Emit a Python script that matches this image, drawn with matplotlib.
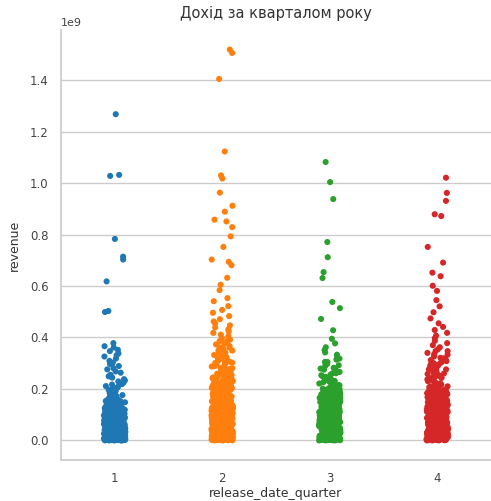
import numpy as np
import pandas as pd
import seaborn as sns
import matplotlib
matplotlib.use("Agg")
import matplotlib.pyplot as plt

# revenue per film, millions of dollars, read off the reference by quarter
# upper part (outliers and sparse tail)
q1_revenue = [
    1268, 1032, 1028, 783, 714, 703, 618, 503, 499,
    378, 366, 361, 352, 347, 338, 331, 326, 318, 309, 302, 297, 289, 281,
    276, 268, 263, 255, 249, 244, 238, 233, 229, 224, 219, 217, 211, 208,
    203, 199, 196, 192, 188, 185, 181, 179, 176, 172, 169, 166, 163, 161,
    158, 155, 153, 150, 148, 146, 143, 141, 138, 136, 134, 132, 130, 127,
    125, 123, 121, 119, 117, 115, 114, 112, 110, 108, 106, 104, 103, 101,
    99, 97, 96, 94, 92, 90, 89, 87, 86, 84, 82, 81, 79, 78, 76, 75, 73, 72,
    70, 69, 67, 66, 64, 63, 61, 60, 58, 57, 56, 54, 53, 52, 50, 49, 48, 46,
    45, 44, 43, 41, 40, 39, 38, 37, 36, 35, 34, 33, 32, 31, 30, 29, 28, 27,
    26, 25, 24, 23, 22, 21, 20, 19, 18, 17, 16, 15, 14, 13, 12, 11, 10, 9,
    8, 7, 6, 5, 4, 3, 2, 1, 0, 0, 2, 5, 8, 12, 15, 21, 27, 33, 41, 48, 55,
]
q2_revenue = [
    1519, 1506, 1405, 1123, 1030, 1018, 963, 912, 889, 858, 851, 829, 793,
    752, 703, 694, 681, 632, 605, 584, 553, 541, 522, 507, 496, 483, 471,
    462, 455, 447, 439, 431, 424, 418, 411, 405, 398, 392, 386, 379, 373,
    367, 361, 355, 349, 343, 338, 332, 327, 321, 316, 311, 306, 301, 296,
    291, 287, 282, 278, 273, 269, 265, 261, 257, 253, 249, 245, 241, 237,
    234, 230, 227, 223, 220, 216, 213, 210, 207, 204, 201, 198, 195, 192,
    189, 186, 183, 180, 178, 175, 172, 170, 167, 165, 162, 160, 157, 155,
    152, 150, 148, 145, 143, 141, 139, 137, 134, 132, 130, 128, 126, 124,
    122, 120, 118, 116, 114, 112, 110, 108, 106, 104, 102, 100, 98, 96, 94,
    92, 90, 88, 86, 84, 82, 80, 78, 76, 74, 72, 70, 68, 66, 64, 62, 60, 58,
    56, 54, 52, 50, 48, 46, 44, 42, 40, 38, 36, 34, 32, 30, 28, 26, 24, 22,
    20, 18, 16, 14, 12, 10, 8, 6, 4, 2, 0, 1, 3, 7, 11, 17, 23, 29, 35, 43,
    51, 59, 67, 75, 83, 91, 99, 109, 119, 131, 143, 157, 171, 187, 203, 221,
]
q3_revenue = [
    1082, 1004, 938, 771, 712, 654, 631, 538, 514, 472, 428, 395, 377, 362,
    351, 342, 333, 322, 314, 305, 297, 289, 282, 275, 268, 261, 255, 249,
    243, 237, 231, 226, 221, 215, 210, 205, 200, 196, 191, 187, 183, 179,
    175, 171, 167, 163, 160, 156, 153, 149, 146, 143, 140, 137, 134, 131,
    128, 125, 122, 119, 117, 114, 111, 109, 106, 104, 101, 99, 97, 94, 92,
    90, 88, 86, 84, 82, 80, 78, 76, 74, 72, 70, 68, 66, 64, 62, 60, 58, 56,
    54, 52, 50, 48, 46, 44, 42, 40, 38, 36, 34, 32, 30, 28, 26, 24, 22, 20,
    18, 16, 14, 12, 10, 8, 6, 4, 2, 0, 1, 3, 5, 9, 13, 19, 25, 31, 39, 47,
    57, 67, 79, 91, 103, 117, 133, 151, 169,
]
q4_revenue = [
    1021, 962, 931, 879, 872, 752, 691, 652, 638, 601, 581, 545, 521, 498,
    474, 455, 441, 429, 418, 407, 397, 387, 378, 370, 362, 354, 347, 340,
    333, 326, 319, 312, 306, 300, 294, 288, 282, 276, 271, 266, 260, 255,
    250, 245, 240, 235, 231, 226, 222, 218, 214, 210, 206, 202, 198, 194,
    190, 187, 183, 180, 176, 173, 170, 166, 163, 160, 157, 154, 151, 148,
    145, 142, 139, 136, 133, 130, 128, 125, 122, 120, 117, 115, 112, 110,
    107, 105, 102, 100, 98, 95, 93, 91, 89, 87, 85, 83, 81, 79, 77, 75, 73,
    71, 69, 67, 65, 63, 61, 59, 57, 55, 53, 51, 49, 47, 45, 43, 41, 39, 37,
    35, 33, 31, 29, 27, 25, 23, 21, 19, 17, 15, 13, 11, 9, 7, 5, 3, 1, 0,
    2, 4, 8, 12, 18, 24, 30, 38, 46, 56, 66, 78, 92, 106, 122, 138, 156,
]

# dense bulk near zero
q1_bulk = [
    3, 7, 1, 12, 5, 18, 9, 24, 2, 15, 31, 6, 11, 44, 0, 27, 8, 36, 14, 52,
    4, 19, 63, 10, 22, 39, 1, 47, 16, 71, 5, 28, 58, 13, 85, 2, 34, 20, 67, 9,
    41, 3, 95, 25, 12, 54, 7, 78, 30, 17, 106, 0, 45, 61, 23, 88, 6, 37, 118, 14,
    50, 4, 72, 29, 99, 10, 57, 19, 131, 2, 42, 81, 26, 65, 8, 112, 33, 15, 49, 140,
    5, 76, 21, 92, 38, 11, 125, 60, 1, 31, 84, 18, 152, 46, 7, 69, 27, 103, 13, 55,
    3, 96, 40, 164, 22, 74, 9, 115, 35, 62, 16, 137, 48, 4, 87, 28, 178, 12, 58, 101,
    20, 43, 6, 122, 66, 30, 93, 1, 148, 51, 17, 79, 36, 191, 10, 108, 24, 59, 3, 132,
    70, 41, 14, 97, 26, 160, 53, 8, 83, 32, 119, 19, 64, 2, 205, 45, 90, 11, 143, 37,
    6, 13, 2, 20, 9, 28, 4, 16, 35, 1, 24, 11, 42, 7, 31, 18, 50, 3, 38, 14,
    57, 8, 26, 46, 0, 65, 21, 33, 12, 74, 5, 53, 29, 83, 17, 40, 92, 10, 61, 25,
    2, 102, 48, 15, 69, 36, 112, 7, 56, 22, 78, 123, 44, 13, 88, 30, 4, 134, 63, 19,
    97, 51, 9, 146, 39, 71, 27, 108, 1, 158, 59, 16, 85, 34, 120, 6, 67, 47, 11, 170,
    23, 94, 3, 55, 129, 37, 14, 76, 8, 43, 104, 26, 62, 18, 1, 89, 32, 140, 49, 12,
]
q2_bulk = [
    2, 9, 15, 4, 27, 11, 38, 6, 21, 50, 1, 33, 17, 63, 8, 44, 25, 77, 13, 56,
    3, 30, 89, 19, 68, 10, 41, 102, 5, 52, 23, 81, 14, 115, 35, 61, 0, 94, 28, 47,
    128, 7, 72, 18, 107, 39, 58, 141, 12, 85, 31, 66, 154, 4, 98, 45, 120, 22, 75, 167,
    9, 53, 133, 36, 87, 16, 180, 62, 110, 26, 146, 1, 79, 193, 42, 124, 57, 11, 159, 92,
    34, 206, 70, 137, 20, 101, 172, 48, 6, 219, 83, 150, 29, 114, 185, 60, 13, 232, 96, 164,
    38, 127, 198, 74, 3, 245, 108, 177, 51, 141, 211, 24, 88, 258, 121, 190, 65, 155, 8, 224,
    100, 271, 43, 168, 134, 237, 78, 15, 203, 284, 117, 55, 181, 250, 91, 147, 31, 216, 297, 130,
    69, 194, 263, 5, 104, 160, 229, 310, 46, 143, 276, 84, 207, 18, 173, 242, 323, 118, 59, 289,
    156, 220, 37, 97, 186, 336, 131, 255, 72, 302, 10, 199, 349, 169, 233, 110, 268, 49, 315, 144,
    212, 362, 86, 182, 281, 27, 246, 375, 123, 328, 157, 225, 63, 294, 388, 195, 136, 259, 341, 99,
    4, 12, 23, 7, 35, 16, 48, 2, 28, 61, 10, 41, 19, 74, 5, 54, 31, 87, 14, 67,
    1, 38, 100, 22, 80, 9, 49, 113, 26, 93, 3, 59, 126, 17, 106, 44, 139, 8, 71, 33,
    152, 20, 119, 55, 165, 12, 84, 37, 178, 6, 132, 64, 191, 25, 97, 46, 204, 15, 145, 76,
    217, 0, 110, 39, 230, 58, 158, 29, 243, 89, 11, 171, 52, 256, 123, 35, 184, 68, 18, 136,
    197, 43, 102, 3, 210, 81, 149, 27, 223, 62, 116, 9, 236, 95, 162, 47, 249, 130, 21, 175,
]
q3_bulk = [
    1, 8, 14, 3, 22, 10, 31, 5, 18, 41, 0, 26, 12, 52, 7, 35, 20, 63, 2, 45,
    16, 74, 9, 29, 57, 4, 86, 24, 39, 13, 98, 48, 6, 68, 33, 110, 19, 80, 11, 55,
    123, 27, 92, 3, 43, 136, 61, 15, 104, 36, 149, 8, 72, 51, 117, 23, 162, 88, 1, 40,
    130, 65, 175, 17, 97, 30, 143, 78, 10, 188, 54, 113, 37, 156, 6, 201, 85, 126, 46, 21,
    169, 102, 214, 60, 139, 13, 227, 76, 182, 34, 115, 240, 50, 152, 93, 4, 253, 128, 28, 195,
    67, 266, 109, 165, 42, 279, 141, 82, 208, 12, 292, 58, 178, 120, 25, 221, 96, 305, 154, 71,
    191, 38, 134, 234, 84, 2, 167, 247, 107, 49, 204, 318, 145, 64, 260, 19, 180, 99, 121, 273,
    3, 11, 19, 6, 27, 14, 36, 1, 22, 45, 9, 31, 17, 54, 4, 40, 25, 63, 12, 49,
    0, 72, 30, 58, 8, 81, 37, 15, 67, 90, 21, 44, 2, 99, 53, 28, 76, 108, 13, 61,
    35, 117, 7, 85, 42, 126, 18, 69, 94, 50, 135, 5, 103, 26, 77, 144, 33, 58, 10, 112,
    153, 41, 86, 20, 162, 66, 121, 1, 95, 171, 48, 29, 130, 74, 180, 15, 104, 56, 139, 37,
    189, 83, 6, 113, 64, 148, 24, 198, 92, 45, 122, 12, 157, 71, 31, 101, 166, 52, 3, 131,
]
q4_bulk = [
    2, 10, 17, 5, 25, 13, 34, 7, 21, 44, 1, 29, 15, 55, 9, 38, 23, 66, 3, 48,
    19, 77, 11, 32, 60, 6, 89, 27, 42, 14, 101, 51, 8, 71, 36, 113, 22, 83, 12, 58,
    126, 30, 95, 4, 46, 139, 64, 18, 107, 39, 152, 10, 75, 54, 120, 26, 165, 91, 0, 43,
    133, 68, 178, 20, 100, 33, 146, 81, 11, 191, 57, 116, 40, 159, 6, 204, 88, 129, 49, 24,
    172, 105, 217, 63, 142, 16, 230, 79, 185, 37, 118, 243, 53, 155, 96, 3, 256, 131, 31, 198,
    70, 269, 112, 168, 45, 282, 144, 85, 211, 14, 295, 61, 181, 123, 28, 224, 99, 308, 157, 74,
    194, 41, 137, 237, 87, 1, 170, 250, 110, 52, 207, 321, 148, 67, 263, 21, 183, 102, 124, 276,
    334, 59, 161, 9, 289, 115, 35, 220, 93, 347, 150, 72, 246, 127, 200, 302, 82, 176, 258, 315,
    5, 13, 21, 2, 30, 16, 39, 8, 25, 48, 11, 34, 19, 57, 4, 43, 28, 66, 14, 52,
    1, 75, 33, 61, 9, 84, 40, 18, 70, 93, 24, 47, 6, 102, 56, 31, 79, 111, 15, 64,
    38, 120, 10, 88, 45, 129, 22, 72, 97, 53, 138, 3, 106, 29, 80, 147, 36, 62, 12, 115,
    156, 44, 89, 23, 165, 69, 124, 0, 98, 174, 51, 32, 133, 77, 183, 17, 107, 59, 142, 41,
    192, 86, 7, 116, 67, 151, 27, 201, 95, 49, 125, 13, 160, 74, 35, 104, 210, 55, 4, 134,
]
quarters = [1, 2, 3, 4]
quarter_colors = ["#1f77b4", "#ff7f0e", "#2ca02c", "#d62728"]

per_quarter = [q1_revenue + q1_bulk, q2_revenue + q2_bulk,
               q3_revenue + q3_bulk, q4_revenue + q4_bulk]
rows = []
for q, vals in zip(quarters, per_quarter):
    for v in vals:
        rows.append((q, v * 1e6))
df = pd.DataFrame(rows, columns=["release_date_quarter", "revenue"])

sns.set_theme(style="whitegrid")
plt.rcParams["font.family"] = ["DejaVu Sans"]

fig = plt.figure(figsize=(4.91, 5.01), dpi=100)
ax = fig.add_axes([0.124, 0.082, 0.876, 0.858])

# jitter is only layout, keep it reproducible
np.random.seed(3)
sns.stripplot(data=df, x="release_date_quarter", y="revenue",
              hue="release_date_quarter", palette=quarter_colors,
              legend=False, size=4.4, jitter=0.1, ax=ax)

sns.despine(ax=ax)
ax.set_title("Дохід за кварталом року", fontsize=10.5, color="#333333", pad=9)
ax.set_xlabel("release_date_quarter", fontsize=9, color="#333333", labelpad=1)
ax.set_ylabel("revenue", fontsize=9, color="#333333", labelpad=6)
ax.tick_params(labelsize=8.5, colors="#444444", pad=3)
ax.yaxis.get_offset_text().set_fontsize(8)

fig.savefig("out.png", dpi=100)
